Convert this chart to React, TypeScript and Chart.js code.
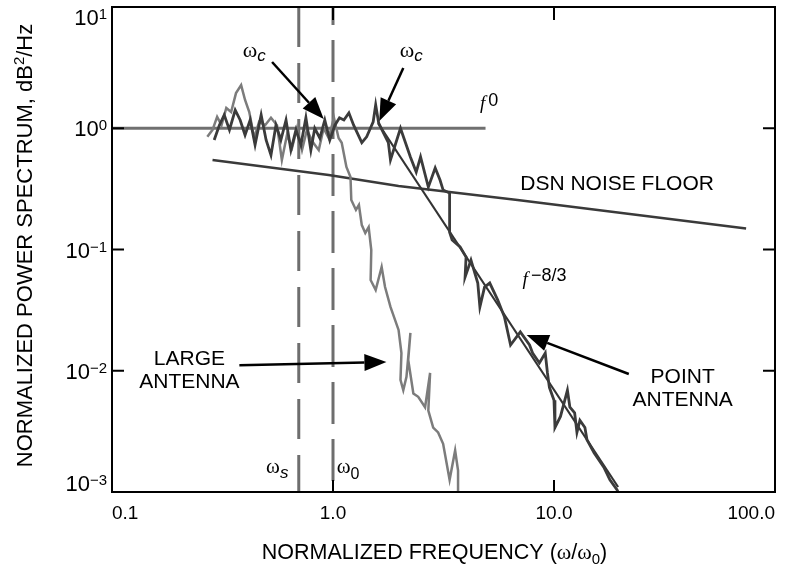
import React, { useEffect, useRef } from 'react';
import { Chart, registerables } from 'chart.js';

Chart.register(...registerables);

const SANS = '"Liberation Sans", Arial, Helvetica, sans-serif';
const SERIF = '"Liberation Serif", "Times New Roman", serif';

// Axis ticks
const xTickValues = [0.1, 1, 10, 100];
const xTickLabels = ['0.1', '1.0', '10.0', '100.0'];
const yTickValues = [10, 1, 0.1, 0.01, 0.001];
const yTickExponents = ['1', '0', '\u22121', '\u22122', '\u22123'];

// Point antenna spectrum
const pointAntennaFreq = [
  0.29, 0.306, 0.322, 0.34, 0.361, 0.38, 0.4, 0.422, 0.444, 0.473, 0.498, 0.524, 0.552, 0.581,
  0.613, 0.645, 0.68, 0.716, 0.754, 0.794, 0.827, 0.872, 0.918, 0.967, 1.02, 1.07, 1.12, 1.18,
  1.24, 1.35, 1.42, 1.52, 1.56, 1.61, 1.78, 1.82, 2.02, 2.24, 2.38, 2.49, 2.7, 2.9, 3.05, 3.15,
  3.37, 3.37, 3.46, 3.76, 4.0, 3.96, 4.21, 4.52, 4.62, 4.85, 5.12, 5.56, 5.97, 6.36, 7.04, 7.75,
  8.0, 8.59, 9.13, 9.34, 9.53, 10.0, 10.1, 10.7, 11.5, 11.8, 12.4, 12.7, 13.1, 13.8, 14.1, 15.2,
  16.8, 17.9, 19.3, 19.5,
];
const pointAntennaPower = [
  0.8, 1.06, 1.29, 0.97, 1.41, 1.17, 0.88, 1.17, 0.73, 1.29, 0.8, 0.6, 1.06, 0.8,
  1.17, 0.66, 0.97, 0.73, 1.22, 0.66, 1.0, 0.83, 1.17, 0.8, 1.06, 1.22, 1.17, 1.34,
  1.06, 0.76, 0.85, 1.13, 1.56, 1.1, 0.76, 0.547, 1.0, 0.58, 0.435, 0.58, 0.327, 0.47, 0.374, 0.309,
  0.292, 0.139, 0.12, 0.105, 0.0867, 0.0593, 0.0818, 0.0529, 0.0336, 0.049, 0.0529, 0.0384, 0.0277, 0.0163, 0.0209, 0.0163,
  0.014, 0.0116, 0.014, 0.0096, 0.0073, 0.0057, 0.0034, 0.0042, 0.0069, 0.005, 0.0045, 0.0031, 0.0039, 0.0034, 0.0027, 0.0021,
  0.0016, 0.00126, 0.00104, 0.001,
];

// Large antenna spectrum
const largeAntennaFreq = [
  0.27, 0.285, 0.299, 0.313, 0.329, 0.346, 0.364, 0.384, 0.4, 0.418, 0.44, 0.463, 0.493, 0.524,
  0.558, 0.587, 0.619, 0.653, 0.687, 0.724, 0.762, 0.81, 0.862, 0.907, 0.956, 1.01, 1.06, 1.095,
  1.15, 1.2, 1.21, 1.27, 1.31, 1.35, 1.4, 1.45, 1.49, 1.48, 1.56, 1.66, 1.72, 1.82, 1.98, 2.04,
  2.02, 2.08, 2.15, 2.24, 2.19, 2.31, 2.43, 2.61, 2.75, 2.7, 2.84, 2.99, 3.15, 3.37, 3.57, 3.68, 3.68,
];
const largeAntennaPower = [
  0.85, 0.97, 1.24, 1.06, 1.47, 1.36, 1.95, 2.27, 1.71, 1.36, 0.83, 1.13, 1.06, 1.22,
  1.06, 0.547, 0.88, 0.69, 1.0, 0.66, 0.97, 0.77, 0.66, 1.0, 0.83, 1.22, 0.83, 0.76,
  0.479, 0.396, 0.256, 0.212, 0.233, 0.159, 0.137, 0.153, 0.099, 0.056, 0.0463, 0.0718, 0.049, 0.0336, 0.0217, 0.014,
  0.0084, 0.0069, 0.0089, 0.0205, 0.0123, 0.0065, 0.0061, 0.005, 0.0096, 0.0047, 0.0034, 0.0031, 0.0025, 0.00126, 0.0022, 0.0015, 0.001,
];

// Reference lines
const noiseFloorFreq = [0.285, 0.956, 1.98, 6.84, 74];
const noiseFloorPower = [0.547, 0.411, 0.334, 0.256, 0.149];
const flatFreq = [0.1, 4.9];
const flatPower = [1, 1];
const slopeFreq = [1.6, 19.5];
const slopePower = [1.1, 0.0011];
const omegaSFreq = [0.7, 0.7];
const omega0Freq = [1.0, 1.0];
const verticalPower = [10, 0.001];

// Annotations (data coordinates)
const arrowStarts: [number, number][] = [[0.53, 3.52], [2.08, 3.14], [0.377, 0.0111], [21.8, 0.0094]];
const arrowTips: [number, number][] = [[0.908, 1.19], [1.62, 1.15], [1.745, 0.0118], [7.52, 0.0197]];

type Part = { t: string; size: number; serif?: boolean; italic?: boolean; dy?: number; dx?: number };
type TextLabel = { x: number; y: number; align: 'left' | 'center' | 'right'; parts: Part[] };

const omegaC: Part[] = [{ t: 'ω', size: 22, serif: true }, { t: 'c', size: 17, italic: true, dy: 4 }];
const textLabels: TextLabel[] = [
  { x: 0.44, y: 3.85, align: 'center', parts: omegaC },
  { x: 2.26, y: 3.85, align: 'center', parts: omegaC },
  { x: 4.62, y: 1.44, align: 'left', parts: [{ t: 'f', size: 19, serif: true, italic: true }, { t: '0', size: 18, dy: -3, dx: 3 }] },
  { x: 19.3, y: 0.31, align: 'center', parts: [{ t: 'DSN NOISE FLOOR', size: 21 }] },
  { x: 7.21, y: 0.0509, align: 'left', parts: [{ t: 'f', size: 19, serif: true, italic: true }, { t: '\u22128/3', size: 18, dy: -4, dx: 3 }] },
  { x: 38.2, y: 0.00792, align: 'center', parts: [{ t: 'POINT', size: 21 }] },
  { x: 38.2, y: 0.00512, align: 'center', parts: [{ t: 'ANTENNA', size: 21 }] },
  { x: 0.224, y: 0.0111, align: 'center', parts: [{ t: 'LARGE', size: 21 }] },
  { x: 0.224, y: 0.00721, align: 'center', parts: [{ t: 'ANTENNA', size: 21 }] },
  { x: 0.498, y: 0.001435, align: 'left', parts: [{ t: 'ω', size: 21, serif: true }, { t: 's', size: 17, italic: true, dy: 5 }] },
  { x: 1.04, y: 0.001435, align: 'left', parts: [{ t: 'ω', size: 21, serif: true }, { t: '0', size: 16, dy: 6 }] },
];

const fontOf = (p: Part) => `${p.italic ? 'italic ' : ''}${p.size}px ${p.serif ? SERIF : SANS}`;

function measureParts(ctx: CanvasRenderingContext2D, parts: Part[]) {
  let w = 0;
  for (const p of parts) {
    ctx.font = fontOf(p);
    w += ctx.measureText(p.t).width + (p.dx || 0);
  }
  return w;
}

function drawParts(ctx: CanvasRenderingContext2D, parts: Part[], x: number, y: number, align: string) {
  const w = measureParts(ctx, parts);
  let cx = align === 'center' ? x - w / 2 : align === 'right' ? x - w : x;
  ctx.textAlign = 'left';
  ctx.textBaseline = 'alphabetic';
  for (const p of parts) {
    ctx.font = fontOf(p);
    cx += p.dx || 0;
    ctx.fillText(p.t, cx, y + (p.dy || 0));
    cx += ctx.measureText(p.t).width;
  }
}

function drawArrow(ctx: CanvasRenderingContext2D, x1: number, y1: number, x2: number, y2: number) {
  const ang = Math.atan2(y2 - y1, x2 - x1);
  const L = 22;
  const H = 8.5;
  const bx = x2 - L * Math.cos(ang);
  const by = y2 - L * Math.sin(ang);
  ctx.beginPath();
  ctx.moveTo(x1, y1);
  ctx.lineTo(bx, by);
  ctx.lineWidth = 2.5;
  ctx.stroke();
  ctx.beginPath();
  ctx.moveTo(x2, y2);
  ctx.lineTo(bx - H * Math.sin(ang), by + H * Math.cos(ang));
  ctx.lineTo(bx + H * Math.sin(ang), by - H * Math.cos(ang));
  ctx.closePath();
  ctx.fill();
}

const decorPlugin = {
  id: 'decor',
  afterDraw(chart: any) {
    const { ctx, chartArea: a, scales } = chart;
    const xs = scales.x;
    const ys = scales.y;
    const px = (v: number) => xs.getPixelForValue(v);
    const py = (v: number) => ys.getPixelForValue(v);
    ctx.save();
    ctx.strokeStyle = '#000';
    ctx.fillStyle = '#000';
    // frame
    ctx.lineWidth = 2;
    ctx.strokeRect(a.left, a.top, a.right - a.left, a.bottom - a.top);
    // inward tick marks
    ctx.lineWidth = 2;
    ctx.beginPath();
    yTickValues.forEach((v) => {
      if (v === 10 || v === 0.001) return;
      const y = py(v);
      ctx.moveTo(a.left, y);
      ctx.lineTo(a.left + 12, y);
      ctx.moveTo(a.right, y);
      ctx.lineTo(a.right - 12, y);
    });
    xTickValues.forEach((v) => {
      if (v === 0.1 || v === 100) return;
      const x = px(v);
      ctx.moveTo(x, a.top);
      ctx.lineTo(x, a.top + 13);
      ctx.moveTo(x, a.bottom);
      ctx.lineTo(x, a.bottom - 12);
    });
    ctx.stroke();
    // y tick labels with superscripts
    yTickValues.forEach((v, i) => {
      const y = py(v);
      let base = y + 8;
      if (v === 10) base = y + 18;
      if (v === 0.001) base = y - 1;
      const sup = yTickExponents[i];
      ctx.textAlign = 'right';
      ctx.textBaseline = 'alphabetic';
      ctx.font = `15px ${SANS}`;
      const sw = ctx.measureText(sup).width;
      ctx.fillText(sup, a.left - 5, base - 6);
      ctx.font = `22px ${SANS}`;
      ctx.fillText('10', a.left - 5 - sw, base);
    });
    // y axis title
    ctx.save();
    ctx.translate(32, (a.top + a.bottom) / 2 - 4);
    ctx.rotate(-Math.PI / 2);
    drawParts(ctx, [
      { t: 'NORMALIZED POWER SPECTRUM, dB', size: 22 },
      { t: '2', size: 15, dy: -8 },
      { t: '/Hz', size: 22 },
    ], 0, 0, 'center');
    ctx.restore();
    // x axis title
    drawParts(ctx, [
      { t: 'NORMALIZED FREQUENCY (', size: 21.5 },
      { t: 'ω', size: 22, serif: true },
      { t: '/', size: 21.5 },
      { t: 'ω', size: 22, serif: true },
      { t: '0', size: 15, dy: 5 },
      { t: ')', size: 21.5 },
    ], (a.left + a.right) / 2 - 9, a.bottom + 67, 'center');
    // arrows
    arrowStarts.forEach((s, i) => {
      const t = arrowTips[i];
      drawArrow(ctx, px(s[0]), py(s[1]), px(t[0]), py(t[1]));
    });
    // text labels
    textLabels.forEach((l) => drawParts(ctx, l.parts, px(l.x), py(l.y), l.align));
    ctx.restore();
  },
};

const toPoints = (xs: number[], ys: number[]) => xs.map((x, i) => ({ x, y: ys[i] }));

const App = () => {
  const ref = useRef<HTMLCanvasElement>(null);
  useEffect(() => {
    const canvas = ref.current;
    if (!canvas) return;
    const chart = new Chart(canvas, {
      type: 'scatter',
      data: {
        datasets: [
          { data: toPoints(pointAntennaFreq, pointAntennaPower), showLine: true, borderColor: '#3b3b3b', borderWidth: 2.8 },
          { data: toPoints(largeAntennaFreq, largeAntennaPower), showLine: true, borderColor: '#7c7c7c', borderWidth: 2.5 },
          { data: toPoints(slopeFreq, slopePower), showLine: true, borderColor: '#333333', borderWidth: 2.2 },
          { data: toPoints(flatFreq, flatPower), showLine: true, borderColor: '#707070', borderWidth: 3 },
          { data: toPoints(noiseFloorFreq, noiseFloorPower), showLine: true, borderColor: '#3a3a3a', borderWidth: 2.5 },
          { data: toPoints(omegaSFreq, verticalPower), showLine: true, borderColor: '#6e6e6e', borderWidth: 3, borderDash: [40, 16] },
          { data: toPoints(omega0Freq, verticalPower), showLine: true, borderColor: '#6e6e6e', borderWidth: 3, borderDash: [42, 15], borderDashOffset: 24 },
        ] as any,
      },
      options: {
        responsive: false,
        animation: false,
        layout: { padding: { top: 7, right: 6, left: 0, bottom: 0 } },
        elements: { point: { radius: 0, hoverRadius: 0 }, line: { tension: 0 } },
        plugins: { legend: { display: false }, tooltip: { enabled: false } },
        scales: {
          x: {
            type: 'logarithmic',
            min: 0.1,
            max: 100,
            position: 'bottom',
            afterBuildTicks: (s: any) => {
              s.ticks = xTickValues.map((v) => ({ value: v }));
            },
            afterFit: (s: any) => {
              s.height = 75;
            },
            grid: { display: false, drawTicks: false },
            border: { display: false },
            ticks: {
              align: 'inner',
              padding: 10,
              color: '#000',
              autoSkip: false,
              maxRotation: 0,
              font: { family: SANS, size: 19 },
              callback: (_v: any, i: number) => xTickLabels[i],
            },
          },
          y: {
            type: 'logarithmic',
            min: 0.001,
            max: 10,
            afterBuildTicks: (s: any) => {
              s.ticks = yTickValues.map((v) => ({ value: v }));
            },
            afterFit: (s: any) => {
              s.width = 112;
            },
            grid: { display: false, drawTicks: false },
            border: { display: false },
            ticks: { display: false },
          },
        },
      } as any,
      plugins: [decorPlugin],
    });
    return () => chart.destroy();
  }, []);
  return (
    <div style={{ position: 'absolute', left: 0, top: 0, width: 785, height: 567, background: '#fff' }}>
      <canvas ref={ref} width={785} height={567} style={{ display: 'block' }} />
    </div>
  );
};

export default App;
